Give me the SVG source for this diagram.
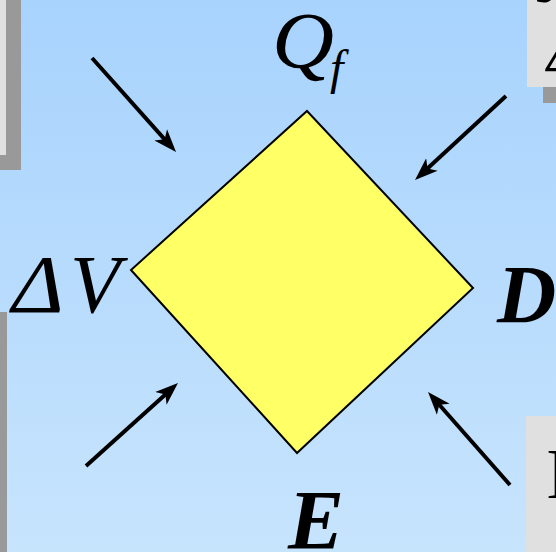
<svg xmlns="http://www.w3.org/2000/svg" width="556" height="552" viewBox="0 0 556 552">
<defs>
<linearGradient id="bg" x1="0" y1="0" x2="0" y2="1">
<stop offset="0" stop-color="#a8d3fd"/>
<stop offset="1" stop-color="#c7e4fd"/>
</linearGradient>
<marker id="ah" markerUnits="userSpaceOnUse" viewBox="0 -10 24 20" markerWidth="24" markerHeight="20" refX="9" refY="0" orient="auto">
<path d="M23,0 L0,-8.5 L6,0 L0,8.5 Z" fill="#000"/>
</marker>
</defs>
<style>
.conn{stroke:#000;stroke-width:4;fill:none;marker-end:url(#ah)}
.box{fill:#e0e0e0}
.shadow{fill:#999999}
.lbl{font-family:"Liberation Serif","DejaVu Serif",serif;font-style:italic;fill:#000}
.bold{font-weight:bold}
.side{font-family:"Liberation Serif","DejaVu Serif",serif;fill:#000}
</style>
<rect x="0" y="0" width="556" height="552" fill="url(#bg)"/>
<g id="box-top-left">
<rect class="shadow" x="-185" y="-185" width="206" height="355"/>
<rect class="box" x="-200" y="-200" width="206" height="355"/>
</g>
<g id="box-bottom-left">
<rect class="shadow" x="-193" y="312" width="200" height="300"/>
<rect class="box" x="-208" y="297" width="200" height="300"/>
</g>
<g id="box-top-right">
<rect class="shadow" x="543" y="-185" width="200" height="288"/>
<rect class="box" x="527" y="-200" width="200" height="287"/>
<text class="lbl" x="536" y="2" font-size="60">J</text>
<text class="lbl" x="547" y="71" font-size="60">Δ</text>
</g>
<g id="box-bottom-right">
<rect class="box" x="526" y="416" width="200" height="200"/>
<text class="side" x="546" y="498" font-size="72">I</text>
</g>
<g id="diamond">
<polygon points="307,111 473,288 297,453 131,270" fill="#ffff66" stroke="#000" stroke-width="2"/>
</g>
<g id="connectors">
<line class="conn" x1="92" y1="58" x2="166.7" y2="141.6"/>
<line class="conn" x1="506" y1="96" x2="425.3" y2="170.5"/>
<line class="conn" x1="86" y1="466" x2="167.6" y2="392.4"/>
<line class="conn" x1="510" y1="485" x2="437.3" y2="402.5"/>
</g>
<g id="label-qf">
<text class="lbl" x="272" y="68" font-size="80" textLength="62" lengthAdjust="spacingAndGlyphs">Q</text>
<text class="lbl" x="330" y="84" font-size="48">f</text>
</g>
<g id="label-dv">
<text class="lbl" x="12" y="312" font-size="82"><tspan textLength="52" lengthAdjust="spacingAndGlyphs">Δ</tspan><tspan x="70">V</tspan></text>
</g>
<g id="label-d">
<text class="lbl bold" x="497" y="322" font-size="82">D</text>
</g>
<g id="label-e">
<text class="lbl bold" x="288" y="549" font-size="84">E</text>
</g>
</svg>
